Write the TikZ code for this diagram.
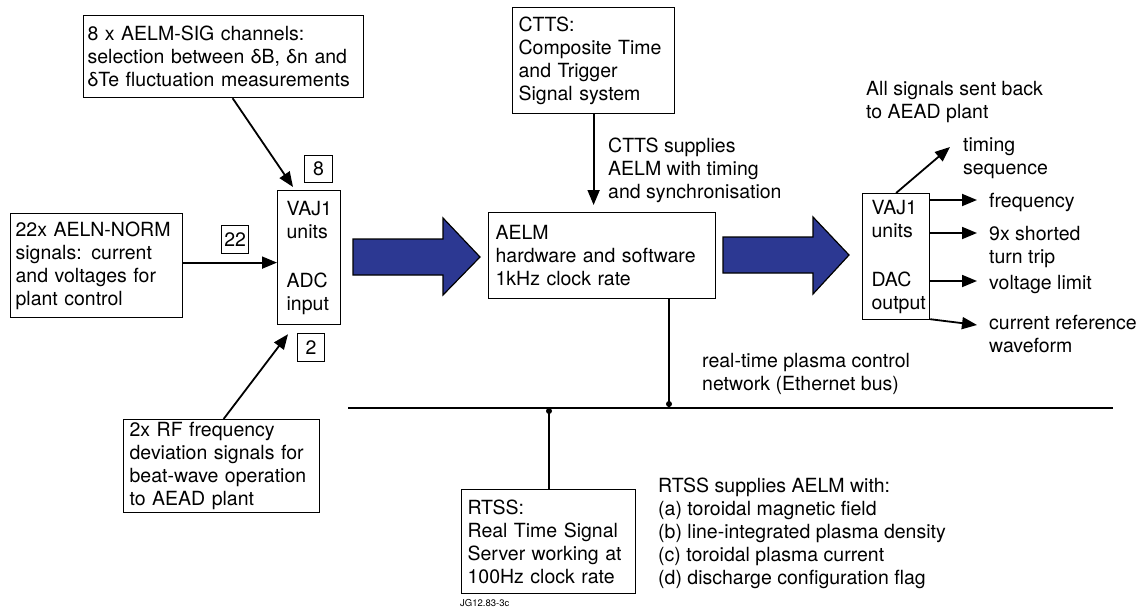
\documentclass[tikz,border=0pt]{standalone}
\usepackage{fontspec}
\setmainfont{TeX Gyre Heros}
\usetikzlibrary{arrows.meta}
\definecolor{plantblue}{RGB}{44,56,146}

\tikzset{
  box/.style={draw, line width=1.2pt, anchor=north west, align=left,
    inner xsep=7pt, inner ysep=0pt, font=\fontsize{19.5}{23}\selectfont},
  numbox/.style={draw, line width=1.2pt, anchor=north west, inner sep=0pt,
    minimum width=27pt, minimum height=28pt, font=\fontsize{19.5}{23}\selectfont},
  lbl/.style={anchor=north west, align=left, inner sep=0pt,
    font=\fontsize{19.5}{23}\selectfont},
  sigline/.style={line width=1.8pt, -{Triangle[length=15pt,width=12pt]}},
  wire/.style={line width=2.2pt},
  bigarrow/.style={draw=black, line width=1.2pt, fill=plantblue, line join=miter}
}

\begin{document}
\begin{tikzpicture}[x=1pt,y=-1pt]
\useasboundingbox (0,0) rectangle (1147,610);
% Input boxes
\node[box, minimum width=280pt, minimum height=82pt, text width=272pt, inner xsep=4pt] (sigbox) at (83,15)
  {8 x AELM-SIG channels:\\selection between δB, δn and\\δTe fluctuation measurements};
\node[box, minimum width=172pt, minimum height=104pt, text width=162pt, inner xsep=5pt] (normbox) at (10,213)
  {22x AELN-NORM\\signals: current\\and voltages for\\plant control};
\node[box, minimum width=196pt, minimum height=93pt, text width=184pt, inner xsep=6pt] (rfbox) at (123,419)
  {2x RF frequency\\deviation signals for\\beat-wave operation\\to AEAD plant};
\node[box, minimum width=63pt, minimum height=134pt, text width=45pt, inner xsep=9pt] (adc) at (277,190)
  {VAJ1\\units\\[26pt]ADC\\input};
% Channel counts
\node[numbox, minimum width=28pt, minimum height=27pt] (n8) at (304,155) {8};
\node[numbox] (n22) at (221,225) {22};
\node[numbox] (n2) at (297,333) {2};
% Input signals
\draw[sigline] ([xshift=9pt]sigbox.south) -- ([xshift=16pt,yshift=3pt]adc.north west);
\draw[sigline] ([yshift=3pt]normbox.east) -- ([yshift=3pt]normbox.east -| adc.west);
\draw[sigline] ([xshift=2pt]rfbox.north) -- ([xshift=11pt,yshift=-9pt]adc.south west);
% Main processing
\node[box, minimum width=227pt, minimum height=86pt, text width=213pt] (aelm) at (488,212)
  {AELM\\hardware and software\\1kHz clock rate};
\node[box, minimum width=162pt, minimum height=106pt, text width=150pt, inner xsep=6pt] (ctts) at (512,7)
  {CTTS:\\Composite Time\\and Trigger\\Signal system};
\draw[sigline, shorten >=7pt] (ctts.south) -- (ctts.south |- aelm.north);
\node[lbl] (cttsnote) at (608,138) {CTTS supplies\\AELM with timing\\and synchronisation};
% Block arrows
\draw[bigarrow] (353,239) -- (443,239) -- (443,218) -- (480,257) -- (443,295) -- (443,275) -- (353,275) -- cycle;
\draw[bigarrow] (723,237) -- (813,237) -- (813,217) -- (849,255) -- (813,294) -- (813,273) -- (723,273) -- cycle;
% Output side
\node[box, minimum width=67pt, minimum height=126pt, text width=49pt, inner xsep=9pt] (dac) at (862,193)
  {VAJ1\\units\\[26pt]DAC\\output};
\node[lbl] (backnote) at (866,81) {All signals sent back\\to AEAD plant};
\node[lbl] (timing) at (963,138) {timing\\sequence};
\node[lbl] (freq) at (989,193) {frequency};
\node[lbl] (trip) at (989,226) {9x shorted\\turn trip};
\node[lbl] (vlim) at (989,275) {voltage limit};
\node[lbl] (iref) at (989,315) {current reference\\waveform};
\coordinate (timingend) at (950,147);
\coordinate (freqend) at (977,200);
\coordinate (tripend) at (977,233);
\coordinate (vlimend) at (977,281);
\coordinate (irefend) at (977,325);
\draw[sigline] (dac.north) -- (timingend);
\draw[sigline] (dac.east |- freqend) -- (freqend);
\draw[sigline] (dac.east |- tripend) -- (tripend);
\draw[sigline] (dac.east |- vlimend) -- (vlimend);
\draw[sigline] ([yshift=1pt]dac.south east) -- (irefend);
% Ethernet bus
\coordinate (busL) at (348,408);
\coordinate (busR) at (1113,408);
\coordinate (aelmtap) at (669,408);
\draw[line width=2.8pt] (busL) -- (busR);
\draw[wire] (aelm.south -| aelmtap) -- (aelmtap);
\fill (669,404) circle (3pt);
\node[lbl] (busnote) at (702,353) {real-time plasma control\\network (Ethernet bus)};
% RTSS
\node[box, minimum width=174pt, minimum height=104pt, text width=162pt, inner xsep=6pt] (rtss) at (461,489)
  {RTSS:\\Real Time Signal\\Server working at\\100Hz clock rate};
\draw[wire] (rtss.north) -- (rtss.north |- busL);
\fill (549,411) circle (3pt);
\node[lbl] (rtssnote) at (658,478)
  {RTSS supplies AELM with:\\(a) toroidal magnetic field\\(b) line-integrated plasma density\\(c) toroidal plasma current\\(d) discharge configuration flag};
\node[anchor=west, inner sep=0pt, font=\fontsize{9.5}{11}\selectfont] (jg) at (460,603) {JG12.83-3c};
\end{tikzpicture}
\end{document}
